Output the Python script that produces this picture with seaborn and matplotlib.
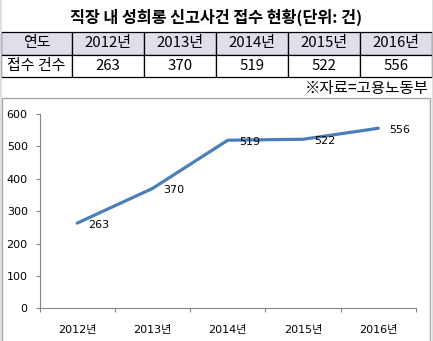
import matplotlib
matplotlib.use("Agg")
import matplotlib.pyplot as plt
import seaborn as sns
import pandas as pd
import numpy as np
from matplotlib.patches import Rectangle
from matplotlib.lines import Line2D

# ---- data ----
years = ["2012년", "2013년", "2014년", "2015년", "2016년"]
counts = [263, 370, 519, 522, 556]
title = "직장 내 성희롱 신고사건 접수 현황(단위: 건)"
row_header = ["연도", "접수 건수"]
source = "※자료=고용노동부"
yticks = [0, 100, 200, 300, 400, 500, 600]

sns.set_theme(style="white")
plt.rcParams["font.family"] = ["Noto Sans CJK KR", "DejaVu Sans"]

W, H = 433, 341
fig = plt.figure(figsize=(W / 100, H / 100), dpi=100)
fig.patch.set_facecolor("white")

def fx(px):
    return px / W

def fy(py):
    return 1 - py / H

# title
fig.text(fx(216), fy(17), title, ha="center", va="center",
         fontsize=11.7, fontweight="bold", color="black")

# table
tax = fig.add_axes([fx(0.5), fy(77), fx(431), (77 - 32) / H])
tax.axis("off")
cell_text = [[row_header[0]] + years,
             [row_header[1]] + [str(c) for c in counts]]
tbl = tax.table(cellText=cell_text, bbox=[0, 0, 1, 1], cellLoc="center")
tbl.auto_set_font_size(False)
for (r, c), cell in tbl.get_celld().items():
    cell.set_edgecolor("black")
    cell.set_linewidth(0.9)
    cell.get_text().set_fontsize(10.8)
    cell.get_text().set_color("black")
    if r == 0:
        cell.set_facecolor("#E1DEEC")
    else:
        cell.set_facecolor("white")

# source
fig.text(fx(429), fy(88.5), source, ha="right", va="center",
         fontsize=11.2, color="black")

# chart box
fig.patches.append(Rectangle((fx(1.5), fy(345)), fx(428.5), (345 - 98) / H,
                             transform=fig.transFigure, fill=False,
                             edgecolor="#A6A6A6", linewidth=1.0))
# image side edges
fig.lines.append(Line2D([fx(0.5), fx(0.5)], [0, 1], transform=fig.transFigure,
                        color="#D9D9D9", linewidth=1.2))
fig.lines.append(Line2D([fx(432.5), fx(432.5)], [0, 1], transform=fig.transFigure,
                        color="#D9D9D9", linewidth=1.2))

# chart axes
ax = fig.add_axes([fx(39.5), fy(308.3), fx(416 - 39.5), (308.3 - 114) / H])
df = pd.DataFrame({"year": years, "count": counts})
sns.lineplot(data=df, x="year", y="count", ax=ax, color="#4A7EBB",
             linewidth=2.3, solid_capstyle="round", sort=False)

fam = ["DejaVu Sans", "Noto Sans CJK KR"]
n = len(years)
ax.set_xlim(-0.5, n - 0.5)
ax.set_ylim(0, 600)
ax.set_yticks(yticks)
ax.set_yticklabels([str(t) for t in yticks], family=fam, fontsize=8, color="black")
ax.set_xticks(np.arange(-0.5, n, 1.0))
ax.set_xticklabels([""] * (n + 1))
ax.set_xticks(np.arange(n), minor=True)
ax.set_xticklabels(years, minor=True, family=fam, fontsize=8, color="black")
ax.tick_params(axis="x", which="major", length=3, width=0.8, color="#868686",
               direction="out", bottom=True)
ax.tick_params(axis="x", which="minor", length=0, pad=12)
ax.tick_params(axis="y", which="major", length=3, width=0.8, color="#868686",
               direction="out", left=True, pad=5.5)
ax.set_xlabel("")
ax.set_ylabel("")
ax.grid(False)
for s in ["top", "right"]:
    ax.spines[s].set_visible(False)
for s in ["left", "bottom"]:
    ax.spines[s].set_color("#868686")
    ax.spines[s].set_linewidth(0.8)
ax.set_facecolor("none")

for i, v in enumerate(counts):
    ax.annotate(str(v), (i, v), xytext=(8, -1), textcoords="offset points",
                ha="left", va="center", fontsize=8, family=fam, color="black")

fig.savefig("out.png", dpi=100, facecolor="white")
